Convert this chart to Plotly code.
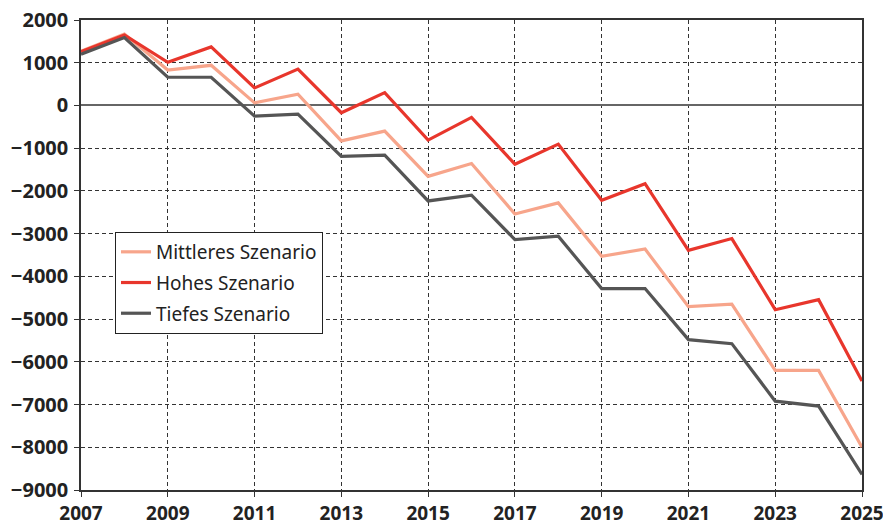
import plotly.graph_objects as go

years = list(range(2007, 2026))
mittleres = [1270, 1670, 830, 940, 60, 265, -830, -600, -1660, -1360, -2540, -2280,
             -3530, -3360, -4710, -4650, -6200, -6200, -8000]
hohes = [1260, 1650, 1010, 1370, 410, 850, -170, 300, -810, -280, -1375, -905,
         -2220, -1830, -3390, -3115, -4780, -4545, -6450]
tiefes = [1200, 1590, 660, 660, -250, -205, -1190, -1165, -2235, -2100, -3140, -3060,
          -4285, -4285, -5480, -5575, -6920, -7035, -8635]

names = ["Mittleres Szenario", "Hohes Szenario", "Tiefes Szenario"]
colors = ["#F7A58B", "#E8362C", "#555555"]
series = [mittleres, hohes, tiefes]

fig = go.Figure()
for i, (n, c, s) in enumerate(zip(names, colors, series)):
    fig.add_trace(go.Scatter(x=years, y=s, mode="lines", name=n,
                             line=dict(color=c, width=3.2),
                             legendgroup=f"g{i}", legendrank=i + 1))

font_family = "Noto Sans"
fig.update_layout(
    width=883, height=516,
    margin=dict(l=73, r=29, t=12, b=34, autoexpand=False),
    paper_bgcolor="white", plot_bgcolor="white",
    font=dict(family=font_family, color="#222222"),
    showlegend=True,
    legend=dict(x=0.0435, y=0.549, xanchor="left", yanchor="top",
                bgcolor="white", bordercolor="#222222", borderwidth=1,
                font=dict(size=19, family=font_family, color="#222222"),
                tracegroupgap=3, itemwidth=30),
)
fig.update_xaxes(range=[2007, 2025], dtick=2, tick0=2007, automargin=False,
                 ticklabeloverflow="allow",
                 showgrid=True, gridcolor="#333333", griddash="4px,3px", gridwidth=1,
                 showline=True, linecolor="#333333", linewidth=1.5, mirror=True,
                 ticks="outside", ticklen=5, tickcolor="#333333",
                 tickfont=dict(size=19, family=font_family, weight="bold", color="#222222"),
                 zeroline=False)
fig.update_yaxes(range=[-9000, 2000], dtick=1000, automargin=False,
                 ticklabeloverflow="allow",
                 showgrid=True, gridcolor="#333333", griddash="4px,3px", gridwidth=1,
                 showline=True, linecolor="#333333", linewidth=1.5, mirror=True,
                 ticks="outside", ticklen=5, tickcolor="#333333",
                 tickfont=dict(size=20, family=font_family, weight="bold", color="#222222"),
                 zeroline=True, zerolinecolor="#666666", zerolinewidth=1.5,
                 tickformat="d", ticklabelstandoff=2)

fig.write_html("out.html")
